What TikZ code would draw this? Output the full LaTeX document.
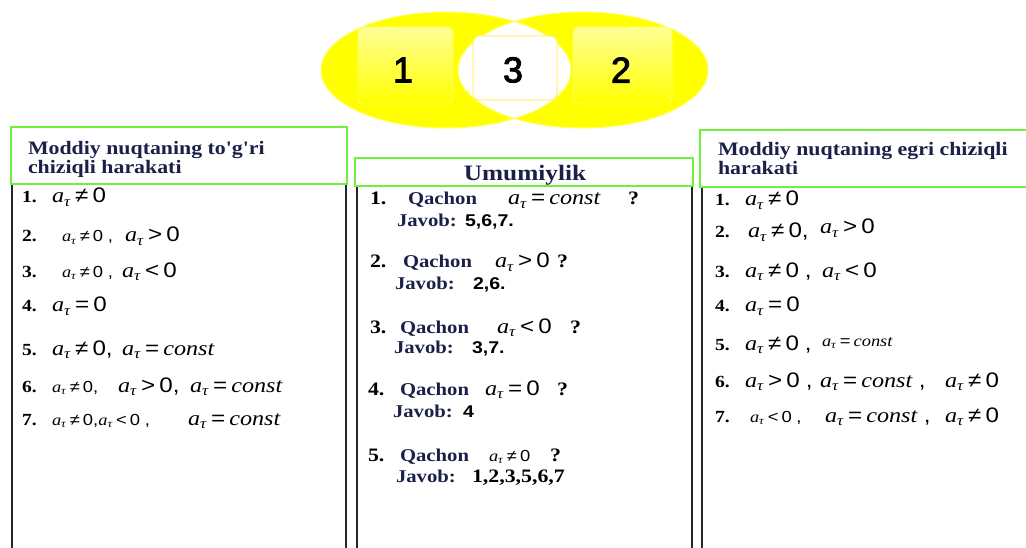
\documentclass[tikz,border=0pt]{standalone}
\usepackage{fontspec}
\setmainfont{Liberation Serif}
\newfontfamily\sansf{Liberation Sans}
\newfontfamily\digitf[FakeBold=2.5]{Liberation Sans}
\usepackage{graphicx}
\definecolor{navy}{RGB}{28,32,72}
\definecolor{hgreen}{RGB}{110,240,60}
\definecolor{vyel}{RGB}{255,255,0}
\definecolor{vlight}{RGB}{255,255,150}
\definecolor{vedge}{RGB}{255,255,100}
\newcommand{\sx}[1]{\scalebox{1.15}[1]{#1}}
\newcommand{\at}{\textit{a}\textsubscript{\textit{τ}}}
\newcommand{\rel}[2]{\at\,{\sansf#1\,#2}}
\newcommand{\cst}{\at\,{\sansf=}\,\textit{const}}
\newcommand{\cm}{{\sansf,}}
\begin{document}
\begin{tikzpicture}[x=1pt,y=-1pt,
  txt/.style={anchor=base west,inner sep=0pt,outer sep=0pt},
  hdr/.style={txt,text=navy,font=\bfseries\fontsize{19}{19}\selectfont},
  inum/.style={txt,font=\bfseries\fontsize{17}{17}\selectfont},
  qnum/.style={txt,font=\bfseries\fontsize{19}{19}\selectfont},
  qword/.style={txt,text=navy,font=\bfseries\fontsize{18}{18}\selectfont},
  ans/.style={txt,font=\sansf\bfseries\fontsize{17}{17}\selectfont},
  ansr/.style={txt,font=\bfseries\fontsize{19}{19}\selectfont},
  mth/.style={txt,font=\fontsize{21}{21}\selectfont},
  mths/.style={txt,font=\fontsize{16}{16}\selectfont},
  hbox/.style={draw=hgreen,line width=1.5pt},
  bbox/.style={draw=black!85,line width=2.5pt},
  digit/.style={font=\digitf\fontsize{36}{36}\selectfont,inner sep=0pt},
  vellipse/.style={x radius=125pt,y radius=58pt},
]
\useasboundingbox (0,0) rectangle (1026,548);

% ---------- Venn diagram ----------
\fill[vyel] (446,70) ellipse [vellipse];
\fill[vyel] (583,70) ellipse [vellipse];
\shade[top color=vlight,bottom color=vyel,rounded corners=6pt,draw=vedge,line width=0.8pt]
  (358,27) rectangle (453,104);
\shade[top color=vlight,bottom color=vyel,rounded corners=6pt,draw=vedge,line width=0.8pt]
  (573,27) rectangle (672,104);
\begin{scope}
  \clip (446,70) ellipse [vellipse];
  \fill[white] (583,70) ellipse [vellipse];
\end{scope}
\draw[vedge,line width=1pt] (446,70) ellipse [vellipse];
\draw[vedge,line width=1pt] (583,70) ellipse [vellipse];
\draw[vyel!80!orange!60!white,fill=white,rounded corners=6pt,line width=1pt] (473,36) rectangle (557,100);
\node[digit] (v1) at (403,70) {1};
\node[digit] (v3) at (513,70) {3};
\node[digit] (v2) at (621,70) {2};

% ---------- boxes ----------
\draw[bbox] (12,548) -- (12,184) -- (346,184) -- (346,548);
\draw[hbox] (11,127) rectangle (347,184);
\draw[bbox] (357,548) -- (357,186) -- (692,186) -- (692,548);
\draw[hbox] (355,158) rectangle (693,186);
\draw[bbox] (702,548) -- (702,187) -- (1026,187);
\draw[hbox] (1026,130) -- (700,130) -- (700,187) -- (1026,187);

% ---------- left column ----------
\node[hdr] (lh1) at (28,155) {\sx{Moddiy nuqtaning to\textquotesingle g\textquotesingle ri}};
\node[hdr] (lh2) at (28,174) {\sx{chiziqli harakati}};

\node[inum] (L1n) at (22,203) {\sx{1.}};
\node[mth]  (L1a) at (52,203) {\sx{\rel{≠}{0}}};
\node[inum] (L2n) at (22,242) {\sx{2.}};
\node[mths] (L2a) at (62,242) {\sx{\rel{≠}{0}\ \cm}};
\node[mth]  (L2b) at (125,242) {\sx{\rel{>}{0}}};
\node[inum] (L3n) at (22,277) {\sx{3.}};
\node[mths] (L3a) at (62,277) {\sx{\rel{≠}{0}\ \cm}};
\node[mth]  (L3b) at (122,277) {\sx{\rel{<}{0}}};
\node[inum] (L4n) at (22,312) {\sx{4.}};
\node[mth]  (L4a) at (52,312) {\sx{\rel{=}{0}}};
\node[inum] (L5n) at (22,355) {\sx{5.}};
\node[mth]  (L5a) at (52,355) {\sx{\rel{≠}{0}\cm}};
\node[mth]  (L5b) at (122,355) {\sx{\cst}};
\node[inum] (L6n) at (22,392) {\sx{6.}};
\node[mths] (L6a) at (52,392) {\sx{\rel{≠}{0}\cm}};
\node[mth]  (L6b) at (118,392) {\sx{\rel{>}{0}\cm}};
\node[mth]  (L6c) at (190,392) {\sx{\cst}};
\node[inum] (L7n) at (22,425) {\sx{7.}};
\node[mths] (L7a) at (52,425) {\sx{\rel{≠}{0}\cm\rel{<}{0}\ \cm}};
\node[mth]  (L7b) at (188,425) {\sx{\cst}};

% ---------- middle column ----------
\node[hdr,anchor=base,font=\bfseries\fontsize{22}{22}\selectfont] (mh) at (525,181) {\sx{Umumiylik}};

\node[qnum]  (Q1n) at (370,205) {\sx{1.}};
\node[qword] (Q1w) at (408,205) {\sx{Qachon}};
\node[mth]   (Q1m) at (508,205) {\sx{\cst}};
\node[qnum]  (Q1q) at (628,205) {\sx{?}};
\node[qword] (J1w) at (397,227) {\sx{Javob:}};
\node[ans]   (J1a) at (465,227) {\sx{5,6,7.}};

\node[qnum]  (Q2n) at (370,268) {\sx{2.}};
\node[qword] (Q2w) at (403,268) {\sx{Qachon}};
\node[mth]   (Q2m) at (495,268) {\sx{\rel{>}{0}}};
\node[qnum]  (Q2q) at (557,268) {\sx{?}};
\node[qword] (J2w) at (395,290) {\sx{Javob:}};
\node[ans]   (J2a) at (473,290) {\sx{2,6.}};

\node[qnum]  (Q3n) at (370,333) {\sx{3.}};
\node[qword] (Q3w) at (400,333) {\sx{Qachon}};
\node[mth]   (Q3m) at (497,333) {\sx{\rel{<}{0}}};
\node[qnum]  (Q3q) at (570,333) {\sx{?}};
\node[qword] (J3w) at (394,353) {\sx{Javob:}};
\node[ans]   (J3a) at (472,353) {\sx{3,7.}};

\node[qnum]  (Q4n) at (368,395) {\sx{4.}};
\node[qword] (Q4w) at (400,395) {\sx{Qachon}};
\node[mth]   (Q4m) at (485,395) {\sx{\rel{=}{0}}};
\node[qnum]  (Q4q) at (557,395) {\sx{?}};
\node[qword] (J4w) at (393,417) {\sx{Javob:}};
\node[ans]   (J4a) at (463,417) {\sx{4}};

\node[qnum]  (Q5n) at (368,461) {\sx{5.}};
\node[qword] (Q5w) at (400,461) {\sx{Qachon}};
\node[mths]  (Q5m) at (489,461) {\sx{\rel{≠}{0}}};
\node[qnum]  (Q5q) at (550,461) {\sx{?}};
\node[qword] (J5w) at (396,482) {\sx{Javob:}};
\node[ansr]  (J5a) at (472,482) {\sx{1,2,3,5,6,7}};

% ---------- right column ----------
\node[hdr] (rh1) at (718,156) {\sx{Moddiy nuqtaning egri chiziqli}};
\node[hdr] (rh2) at (718,175) {\sx{harakati}};

\node[inum] (R1n) at (715,206) {\sx{1.}};
\node[mth]  (R1a) at (745,206) {\sx{\rel{≠}{0}}};
\node[inum] (R2n) at (715,238) {\sx{2.}};
\node[mth]  (R2a) at (748,238) {\sx{\rel{≠}{0}\cm}};
\node[mth]  (R2b) at (820,234) {\sx{\rel{>}{0}}};
\node[inum] (R3n) at (715,277) {\sx{3.}};
\node[mth]  (R3a) at (745,277) {\sx{\rel{≠}{0}\ \cm}};
\node[mth]  (R3b) at (822,277) {\sx{\rel{<}{0}}};
\node[inum] (R4n) at (715,312) {\sx{4.}};
\node[mth]  (R4a) at (745,312) {\sx{\rel{=}{0}}};
\node[inum] (R5n) at (715,350) {\sx{5.}};
\node[mth]  (R5a) at (745,350) {\sx{\rel{≠}{0}\ \cm}};
\node[mths] (R5b) at (822,346) {\sx{\cst}};
\node[inum] (R6n) at (715,387) {\sx{6.}};
\node[mth]  (R6a) at (745,387) {\sx{\rel{>}{0}\ \cm}};
\node[mth]  (R6b) at (820,387) {\sx{\cst\ \cm}};
\node[mth]  (R6c) at (945,387) {\sx{\rel{≠}{0}}};
\node[inum] (R7n) at (715,422) {\sx{7.}};
\node[mths] (R7a) at (750,422) {\sx{\rel{<}{0}\ \cm}};
\node[mth]  (R7b) at (825,422) {\sx{\cst\ \cm}};
\node[mth]  (R7c) at (945,422) {\sx{\rel{≠}{0}}};
\end{tikzpicture}
\end{document}
